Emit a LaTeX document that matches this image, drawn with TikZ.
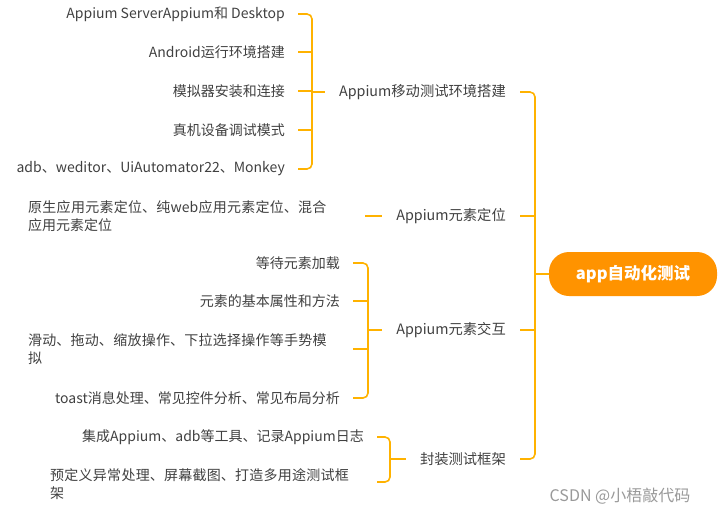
\documentclass[tikz,border=0pt]{standalone}
\usepackage{fontspec}
\setmainfont{Noto Sans CJK SC}
\XeTeXlinebreaklocale "zh"
\XeTeXlinebreakskip=0pt plus 1pt
\tikzset{
  link/.style={draw=orange!60!yellow, line width=1.6pt, rounded corners=5pt},
  leaf/.style={anchor=east, inner xsep=13pt, font=\fontsize{14}{18}\selectfont, text=black!75},
  leaftwo/.style={anchor=west, inner xsep=0pt, font=\fontsize{14}{18}\selectfont, text=black!75, align=left, text width=306pt},
  branch/.style={anchor=east, inner xsep=14pt, font=\fontsize{14.3}{18}\selectfont, text=black!75},
  rootbox/.style={fill=orange!85!yellow, rounded corners=20pt, minimum width=168pt, minimum height=44pt, text=white, font=\bfseries\fontsize{16.5}{20}\selectfont}
}
\begin{document}
\begin{tikzpicture}[x=1pt,y=-1pt]
  \useasboundingbox (0,0) rectangle (720,514);
  % 根节点
  \node[rootbox] (root) at (633,274) {app自动化测试};
  % 分支
  \node[branch] (envB) at (520,92) {Appium移动测试环境搭建};
  \node[branch] (locB) at (520,216) {Appium元素定位};
  \node[branch] (actB) at (520,330) {Appium元素交互};
  \node[branch] (frmB) at (520,459) {封装测试框架};
  % 叶子
  \node[leaf] (env1) at (298,14) {Appium ServerAppium和 Desktop};
  \node[leaf] (env2) at (298,52) {Android运行环境搭建};
  \node[leaf] (env3) at (298,91) {模拟器安装和连接};
  \node[leaf] (env4) at (298,130) {真机设备调试模式};
  \node[leaf] (env5) at (298,169) {adb、weditor、UiAutomator22、Monkey};
  \node[leaftwo] (loc1) at (28,216) {原生应用元素定位、纯web应用元素定位、混合应用元素定位};
  \node[leaf] (act1) at (353,263) {等待元素加载};
  \node[leaf] (act2) at (353,301) {元素的基本属性和方法};
  \node[leaftwo] (act3) at (28,349) {滑动、拖动、缩放操作、下拉选择操作等手势模拟};
  \node[leaf] (act4) at (353,398) {toast消息处理、常见控件分析、常见布局分析};
  \node[leaf] (frm1) at (377,437) {集成Appium、adb等工具、记录Appium日志};
  \node[leaftwo] (frm2) at (50,484) {预定义异常处理、屏幕截图、打造多用途测试框架};
  % 连线
  \draw[link] (env1.east) -| (312,92) |- (env5.east);
  \foreach \n in {env2,env3,env4} \draw[link] (\n.east) -- ++(14,0);
  \draw[link] (312,92) -- (envB.west);
  \draw[link] (365,216) -- (locB.west);
  \draw[link] (act1.east) -| (368,330) |- (act4.east);
  \draw[link] (act2.east) -- (368,301);
  \draw[link] (353,349) -- (368,349);
  \draw[link] (368,330) -- (actB.west);
  \draw[link] (frm1.east) -| (390,459) |- (377,482);
  \draw[link] (390,459) -- (frmB.west);
  \draw[link] (envB.east) -| (535,274) |- (frmB.east);
  \draw[link] (locB.east) -- (535,216);
  \draw[link] (actB.east) -- (535,330);
  \draw[link] (535,274) -- (root.west);
  % 水印
  \node[text=black!40, font=\fontsize{16}{20}\selectfont] (mark) at (620,496) {CSDN @小梧敲代码};
\end{tikzpicture}
\end{document}
